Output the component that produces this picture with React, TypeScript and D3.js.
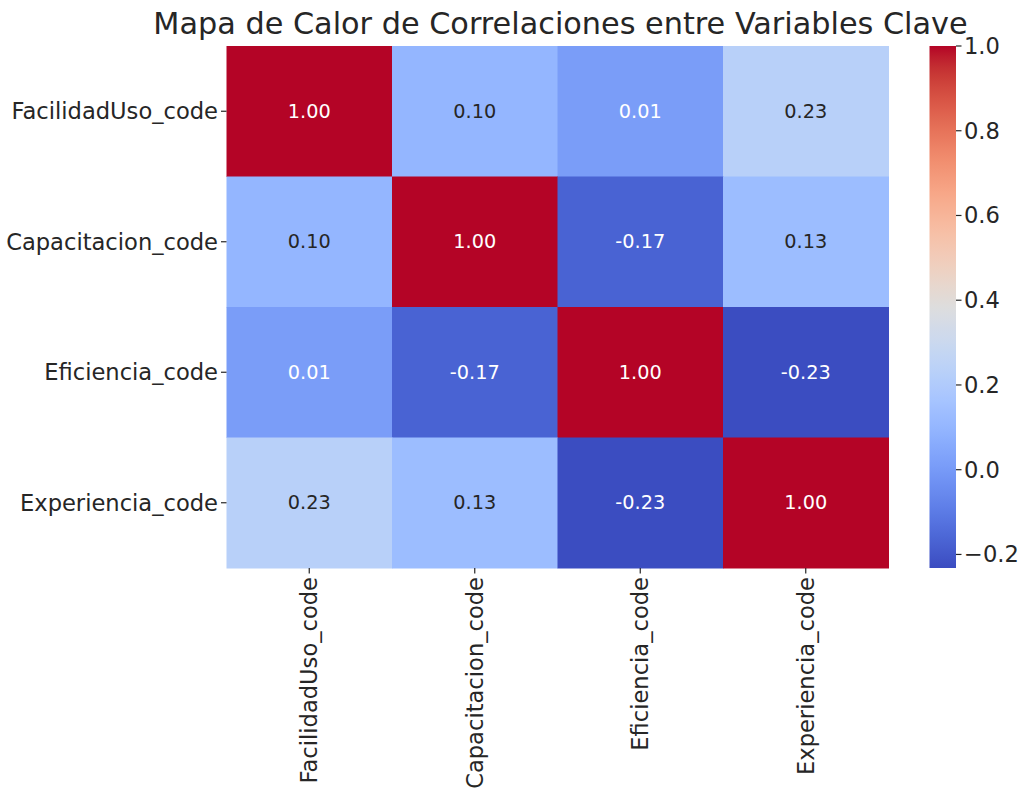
import React from "react";
import * as d3 from "d3";

const variables = ["FacilidadUso_code", "Capacitacion_code", "Eficiencia_code", "Experiencia_code"];
const row0 = [1.0, 0.1, 0.01, 0.23];
const row1 = [0.1, 1.0, -0.17, 0.13];
const row2 = [0.01, -0.17, 1.0, -0.23];
const row3 = [0.23, 0.13, -0.23, 1.0];
const matrix = [row0, row1, row2, row3];
const vMin = -0.232;
const vMax = 1.0;
const colorbarTicks = [-0.2, 0.0, 0.2, 0.4, 0.6, 0.8, 1.0];
const title = "Mapa de Calor de Correlaciones entre Variables Clave";

// Moreland coolwarm control colours
const coolwarm = [
  [59, 76, 192], [68, 90, 204], [77, 104, 215], [87, 117, 225], [98, 130, 234],
  [108, 142, 241], [119, 154, 247], [130, 165, 251], [141, 176, 254], [152, 185, 255],
  [163, 194, 255], [174, 201, 253], [184, 208, 249], [194, 213, 244], [204, 217, 238],
  [213, 219, 230], [221, 221, 221], [229, 216, 209], [236, 211, 197], [241, 204, 185],
  [245, 196, 173], [247, 187, 160], [247, 177, 148], [247, 166, 135], [244, 154, 123],
  [241, 141, 111], [236, 127, 99], [229, 112, 88], [222, 96, 77], [213, 80, 66],
  [203, 62, 56], [192, 40, 47], [180, 4, 38],
];
const coolwarmInterp = d3.piecewise(
  d3.interpolateRgb,
  coolwarm.map((c) => `rgb(${c[0]},${c[1]},${c[2]})`)
);
const color = d3.scaleSequential(coolwarmInterp).domain([vMin, vMax]).clamp(true);

function textColor(c: string) {
  const rgb = d3.rgb(c);
  const lin = (v: number) => {
    const s = v / 255;
    return s <= 0.03928 ? s / 12.92 : Math.pow((s + 0.055) / 1.055, 2.4);
  };
  const lum = 0.2126 * lin(rgb.r) + 0.7152 * lin(rgb.g) + 0.0722 * lin(rgb.b);
  return lum > 0.408 ? "#262626" : "#ffffff";
}

export default function App() {
  const W = 1019, H = 789;
  const left = 226.5, right = 888.5, top = 46, bottom = 568;
  const cbLeft = 929.5, cbRight = 956;
  const x = d3.scaleBand<string>().domain(variables).range([left, right]);
  const y = d3.scaleBand<string>().domain(variables).range([top, bottom]);
  const cbY = d3.scaleLinear().domain([vMin, vMax]).range([bottom, top]);
  const font = "DejaVu Sans, sans-serif";
  const stops = d3.range(0, 1.0001, 0.02);
  const textCol = "#262626";

  return (
    <svg width={W} height={H} style={{ position: "absolute", left: 0, top: 0 }} fontFamily={font}>
      <rect width={W} height={H} fill="#fff" />
      <defs>
        <linearGradient id="cb" x1="0" y1="1" x2="0" y2="0">
          {stops.map((t) => (
            <stop key={t} offset={t} stopColor={color(vMin + t * (vMax - vMin))} />
          ))}
        </linearGradient>
      </defs>
      <text x={(left + right) / 2 + 3} y={34} textAnchor="middle" fontSize={30.3} fill={textCol}>
        {title}
      </text>
      {matrix.map((row, i) =>
        row.map((v, j) => {
          const c = color(v);
          return (
            <g key={`${i}-${j}`}>
              <rect
                x={x(variables[j])!}
                y={y(variables[i])!}
                width={x.bandwidth() + 0.5}
                height={y.bandwidth() + 0.5}
                fill={c}
              />
              <text
                x={x(variables[j])! + x.bandwidth() / 2}
                y={y(variables[i])! + y.bandwidth() / 2}
                textAnchor="middle"
                dominantBaseline="central"
                fontSize={19.3}
                fill={textColor(c)}
              >
                {v.toFixed(2)}
              </text>
            </g>
          );
        })
      )}
      {variables.map((v) => (
        <g key={"y" + v}>
          <line
            x1={left - 5.5}
            x2={left}
            y1={y(v)! + y.bandwidth() / 2}
            y2={y(v)! + y.bandwidth() / 2}
            stroke={textCol}
            strokeWidth={1.2}
          />
          <text
            x={left - 8.5}
            y={y(v)! + y.bandwidth() / 2}
            textAnchor="end"
            dominantBaseline="central"
            fontSize={22.6}
            fill={textCol}
          >
            {v}
          </text>
        </g>
      ))}
      {variables.map((v) => {
        const cx = x(v)! + x.bandwidth() / 2;
        return (
          <g key={"x" + v}>
            <line x1={cx} x2={cx} y1={bottom} y2={bottom + 5.5} stroke={textCol} strokeWidth={1.2} />
            <text
              transform={`translate(${cx},${bottom + 9}) rotate(-90)`}
              textAnchor="end"
              dominantBaseline="central"
              fontSize={22.6}
              fill={textCol}
            >
              {v}
            </text>
          </g>
        );
      })}
      <rect x={cbLeft} y={top} width={cbRight - cbLeft} height={bottom - top} fill="url(#cb)" />
      {colorbarTicks.map((t) => (
        <g key={"cb" + t}>
          <line x1={cbRight} x2={cbRight + 5.5} y1={cbY(t)} y2={cbY(t)} stroke={textCol} strokeWidth={1.2} />
          <text
            x={cbRight + 8}
            y={cbY(t)}
            dominantBaseline="central"
            fontSize={22.6}
            fill={textCol}
          >
            {t < 0 ? "\u2212" + Math.abs(t).toFixed(1) : t.toFixed(1)}
          </text>
        </g>
      ))}
    </svg>
  );
}
